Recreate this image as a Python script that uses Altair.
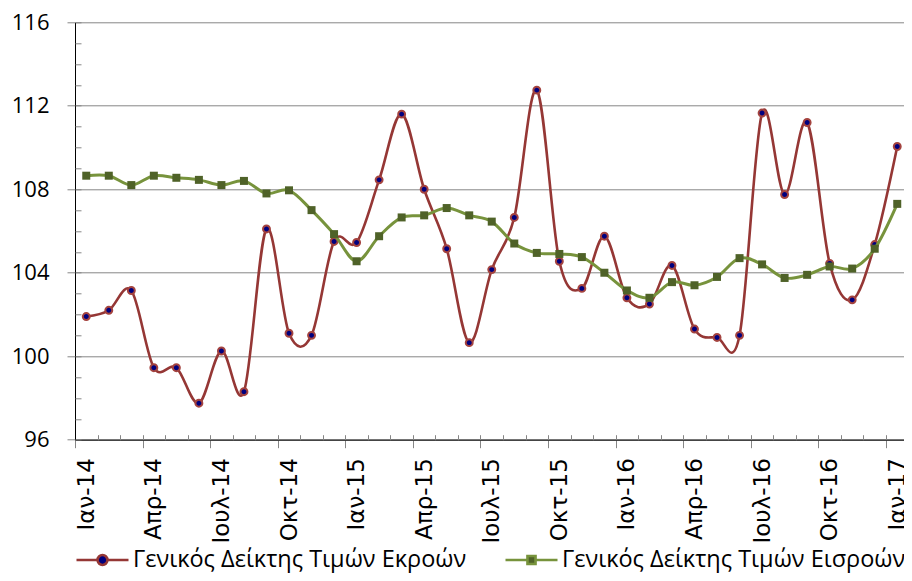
import json
import altair as alt
import pandas as pd

# ---- data ----
months = [
    "Ιαν-14", "Φεβ-14", "Μαρ-14", "Απρ-14", "Μαϊ-14", "Ιουν-14", "Ιουλ-14", "Αυγ-14", "Σεπ-14", "Οκτ-14", "Νοε-14", "Δεκ-14",
    "Ιαν-15", "Φεβ-15", "Μαρ-15", "Απρ-15", "Μαϊ-15", "Ιουν-15", "Ιουλ-15", "Αυγ-15", "Σεπ-15", "Οκτ-15", "Νοε-15", "Δεκ-15",
    "Ιαν-16", "Φεβ-16", "Μαρ-16", "Απρ-16", "Μαϊ-16", "Ιουν-16", "Ιουλ-16", "Αυγ-16", "Σεπ-16", "Οκτ-16", "Νοε-16", "Δεκ-16",
    "Ιαν-17",
]
output_index = [
    101.9, 102.2, 103.15, 99.45, 99.45, 97.75, 100.25, 98.3, 106.1, 101.1, 101.0, 105.5,
    105.45, 108.45, 111.6, 108.0, 105.15, 100.65, 104.15, 106.65, 112.75, 104.55, 103.25, 105.75,
    102.8, 102.5, 104.35, 101.3, 100.9, 101.0, 111.65, 107.75, 111.2, 104.45, 102.7, 105.35,
    110.05,
]
input_index = [
    108.65, 108.65, 108.2, 108.65, 108.55, 108.45, 108.2, 108.4, 107.8, 107.95, 107.0, 105.85,
    104.55, 105.75, 106.65, 106.75, 107.1, 106.75, 106.45, 105.4, 104.95, 104.9, 104.75, 104.0,
    103.15, 102.8, 103.55, 103.4, 103.8, 104.7, 104.4, 103.75, 103.9, 104.3, 104.2, 105.15,
    107.3,
]
series_names = ["Γενικός Δείκτης Τιμών Εκροών", "Γενικός Δείκτης Τιμών Εισροών"]
y_major = [96, 100, 104, 108, 112, 116]
y_minor = list(range(96, 117))

# ---- tables ----
n = len(months)
idx = list(range(n))
wide = pd.DataFrame({"idx": idx, "month": months, "out": output_index, "inp": input_index})
long = pd.DataFrame({
    "idx": idx * 2,
    "value": output_index + input_index,
    "series": [series_names[0]] * n + [series_names[1]] * n,
})

major_bounds = [i - 0.5 for i in range(0, n, 3)]
minor_bounds = [i - 0.5 for i in range(n)]

RED = "#953735"
RED_EDGE = "#A4433F"
NAVY = "#00007F"
GREEN = "#77933C"
DKGREEN = "#4F6228"
GRID = "#868686"

PLOT_W = 829
X_MAX = 36.3
half_step = PLOT_W / (X_MAX + 0.5) / 2

x_scale = alt.Scale(domain=[-0.5, X_MAX], nice=False, zero=False)
y_scale = alt.Scale(domain=[96, 116], nice=False, zero=False)

label_arr = json.dumps(months, ensure_ascii=False)
x_label_expr = f"(round(datum.value + 0.5) % 3 == 0) ? {label_arr}[round(datum.value + 0.5)] : ''"

x_axis_major = alt.Axis(
    values=major_bounds, tickSize=8, tickColor=GRID, tickWidth=1,
    labelExpr=x_label_expr, labelAngle=270, labelAlign="right", labelBaseline="middle",
    labelOffset=half_step, labelPadding=10, labelFont="DejaVu Sans", labelFontSize=23,
    labelColor="black", labelOverlap=False, labelFlush=False, labelBound=False,
    domainColor="black", domainWidth=1, grid=False, title=None, orient="bottom",
)
y_axis_major = alt.Axis(
    values=y_major, tickSize=8, tickColor=GRID, tickWidth=1,
    grid=True, gridColor=GRID, gridWidth=1,
    labelFont="Open Sans", labelFontSize=22, labelColor="black", labelPadding=18,
    labelFlush=False, domainColor="black", domainWidth=1, title=None, orient="left",
)
x_axis_minor = alt.Axis(
    values=minor_bounds, orient="bottom", offset=-5, tickSize=5, tickColor=GRID,
    labels=False, domain=False, grid=False, title=None,
)
y_axis_minor = alt.Axis(
    values=y_minor, orient="left", offset=-6, tickSize=6, tickColor=GRID,
    labels=False, domain=False, grid=False, title=None,
)

base = alt.Chart(wide)

red_line = base.mark_line(interpolate="cardinal", tension=0, color=RED, strokeWidth=2.6).encode(
    x=alt.X("idx:Q", scale=x_scale, axis=x_axis_major),
    y=alt.Y("out:Q", scale=y_scale, axis=y_axis_major),
)
red_pts = base.mark_point(shape="circle", filled=True, fill=NAVY, stroke=RED_EDGE,
                          strokeWidth=2, size=48, opacity=1).encode(
    x=alt.X("idx:Q", scale=x_scale, axis=None),
    y=alt.Y("out:Q", scale=y_scale, axis=None),
)
green_line = base.mark_line(interpolate="cardinal", tension=0, color=GREEN, strokeWidth=3).encode(
    x=alt.X("idx:Q", scale=x_scale, axis=x_axis_minor),
    y=alt.Y("inp:Q", scale=y_scale, axis=y_axis_minor),
)
green_pts = base.mark_square(size=64, color=DKGREEN, opacity=1).encode(
    x=alt.X("idx:Q", scale=x_scale, axis=None),
    y=alt.Y("inp:Q", scale=y_scale, axis=None),
)

# legend-only layer (no data drawn), symbols = line segment with marker
circle_path = ("M-1,0H-0.19M0.19,0H1"
               "M-0.19,0A0.19,0.19,0,1,0,0.19,0A0.19,0.19,0,1,0,-0.19,0Z")
square_path = "M-1,0H-0.155M0.155,0H1M-0.155,-0.155H0.155V0.155H-0.155Z"

legend = alt.Legend(
    orient="none", legendX=0, legendY=510.2, direction="horizontal", title=None,
    symbolSize=2704, symbolStrokeWidth=2.6, symbolOpacity=1,
    labelFont="Open Sans", labelFontSize=23.5, labelColor="black", labelLimit=0,
    labelOffset=3, columnPadding=33, padding=0,
)
legend_layer = alt.Chart(long).transform_filter("false").mark_point(filled=True, opacity=1).encode(
    x=alt.X("idx:Q", scale=x_scale, axis=None),
    y=alt.Y("value:Q", scale=y_scale, axis=None),
    shape=alt.Shape("series:N", scale=alt.Scale(domain=series_names, range=[circle_path, square_path]), legend=legend),
    fill=alt.Fill("series:N", scale=alt.Scale(domain=series_names, range=[NAVY, DKGREEN]), legend=legend),
    stroke=alt.Stroke("series:N", scale=alt.Scale(domain=series_names, range=[RED, GREEN]), legend=legend),
)

chart = alt.layer(red_line, red_pts, green_line, green_pts, legend_layer).resolve_axis(
    x="independent", y="independent"
).properties(
    width=PLOT_W, height=417.4,
    autosize=alt.AutoSizeParams(type="none"),
    padding={"left": 67, "top": 14.3, "right": 0, "bottom": 133.3},
    background="white",
).configure_view(stroke=None)

chart.save("out.html", embed_options={"renderer": "svg", "actions": False})
